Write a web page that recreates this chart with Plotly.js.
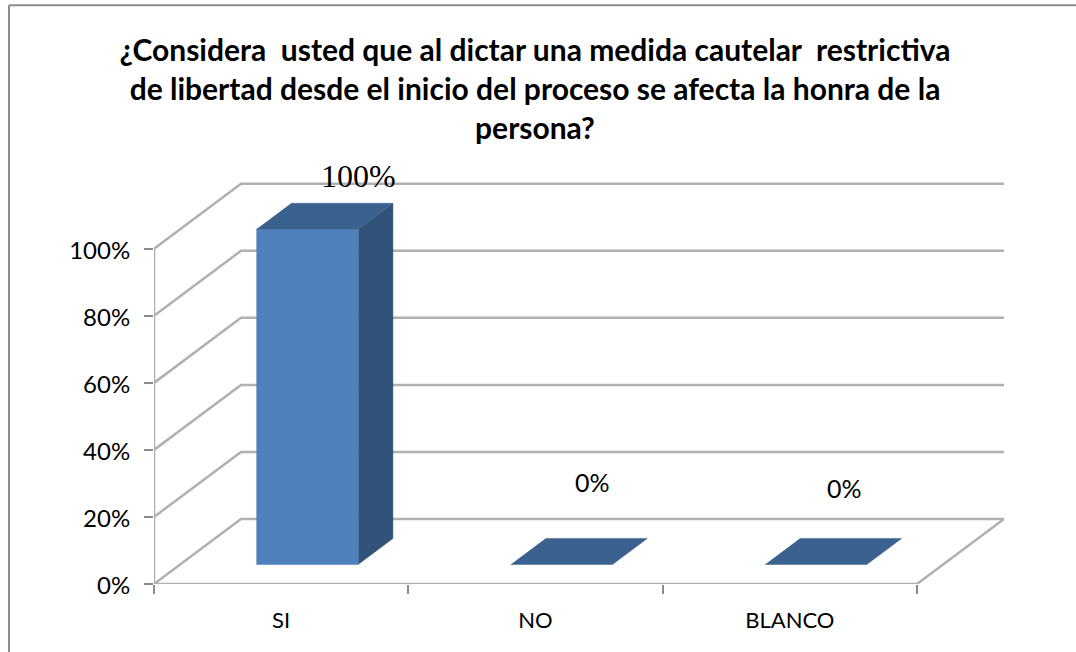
<!DOCTYPE html>
<html>
<head>
<meta charset="utf-8">
<script src="https://cdn.plot.ly/plotly-3.0.1.min.js"></script>
<style>
html,body{margin:0;padding:0;background:#fff;}
#chart{width:1076px;height:652px;}
</style>
</head>
<body>
<div id="chart"></div>
<script>
// ---- data ----
var categories = ["SI", "NO", "BLANCO"];
var values = [100, 0, 0];
var valueLabels = ["100%", "0%", "0%"];
var yTicks = [0, 20, 40, 60, 80, 100];
var yTickLabels = ["0%", "20%", "40%", "60%", "80%", "100%"];
var chartTitle = "¿Considera\u00a0 usted que al dictar una medida cautelar\u00a0 restrictiva<br>de libertad desde el inicio del proceso se afecta la honra de la<br>persona?";

// ---- oblique projection (depth 0 = front plane, 1 = back wall) ----
var depthX = 0.342, depthY = 19.4;
var barHalf = 0.2, barFront = 0.3, barBack = 0.7;
function px(cat, d) { return cat + d * depthX; }
function py(val, d) { return val + d * depthY; }

var traces = [];
var gridColor = "#b0b0b0";
var nCat = categories.length;

function poly(xs, ys, color) {
  return {type: "scatter", mode: "lines", x: xs, y: ys, fill: "toself", fillcolor: color,
          line: {color: color, width: 0.5}, hoverinfo: "skip", showlegend: false, cliponaxis: false};
}
function wire(xs, ys, w) {
  return {type: "scatter", mode: "lines", x: xs, y: ys, line: {color: gridColor, width: w || 2.5},
          hoverinfo: "skip", showlegend: false, cliponaxis: false};
}

// walls and floor
var left = -0.5, right = nCat - 0.5;
yTicks.forEach(function (t) {
  traces.push(wire([px(left, 0), px(left, 1), px(right, 1)], [py(t, 0), py(t, 1), py(t, 1)]));
});
traces.push(wire([left, left], [0, 100]));
traces.push(wire([left, right, px(right, 1)], [0, 0, py(0, 1)]));

// bars
var cSide = "#325379", cTop = "#3b628e", cFront = "#4f81bd";
categories.forEach(function (c, i) {
  var v = values[i];
  var x0 = i - barHalf, x1 = i + barHalf;
  if (v > 0) {
    traces.push(poly([px(x1, barFront), px(x1, barBack), px(x1, barBack), px(x1, barFront)],
                     [py(0, barFront), py(0, barBack), py(v, barBack), py(v, barFront)], cSide));
    traces.push(poly([px(x0, barFront), px(x1, barFront), px(x1, barFront), px(x0, barFront)],
                     [py(0, barFront), py(0, barFront), py(v, barFront), py(v, barFront)], cFront));
  }
  traces.push(poly([px(x0, barFront), px(x1, barFront), px(x1, barBack), px(x0, barBack)],
                   [py(v, barFront), py(v, barFront), py(v, barBack), py(v, barBack)], cTop));
});

// dummy traces that carry the secondary x axis (boundary tick marks)
traces.push({type: "scatter", mode: "markers", x: [0, 1, 2], y: [0, 0, 0], xaxis: "x2",
             marker: {opacity: 0}, hoverinfo: "skip", showlegend: false});

var W = 1076, H = 652;
var plotL = 154, plotR = 1005, plotB = 584, plotT = 165.25;
var xRange = [-0.5, 2.846];
var yRange = [0, 125];
function paperX(p) { return (p - plotL) / (plotR - plotL); }
function paperY(p) { return (plotB - p) / (plotB - plotT); }

var layout = {
  width: W, height: H,
  paper_bgcolor: "#fff", plot_bgcolor: "rgba(0,0,0,0)",
  showlegend: false,
  margin: {l: plotL, r: W - plotR, t: plotT, b: H - plotB, pad: 0},
  font: {family: "Lato, sans-serif", color: "#000"},
  title: {text: chartTitle, font: {family: "Lato, sans-serif", size: 30, color: "#000", weight: 700},
          x: 535 / W, xanchor: "center", y: 1 - 61 / H, yanchor: "middle"},
  xaxis: {range: xRange, tickmode: "array", tickvals: [0, 1, 2], ticktext: categories,
          ticks: "", showgrid: false, zeroline: false, showline: false,
          tickfont: {family: "Lato, sans-serif", size: 22}, ticklabelstandoff: 21},
  xaxis2: {range: xRange, overlaying: "x", anchor: "y", side: "bottom", tickmode: "array",
           tickvals: [-0.5, 0.5, 1.5, 2.5], ticktext: ["", "", "", ""], ticks: "outside",
           ticklen: 9, tickwidth: 1.5, tickcolor: "#8a8a8a", showgrid: false, zeroline: false, showline: false},
  yaxis: {range: yRange, tickmode: "array", tickvals: yTicks, ticktext: yTickLabels,
          ticks: "outside", ticklen: 9, tickwidth: 1.5, tickcolor: "#8a8a8a",
          showgrid: false, zeroline: false, showline: false, ticklabelstandoff: 9, ticklabelshift: 2,
          tickfont: {family: "Lato, sans-serif", size: 24}},
  annotations: [
    {x: 0.304, y: 121.7, text: valueLabels[0], showarrow: false, xanchor: "center", yanchor: "middle",
     font: {family: "Liberation Serif, serif", size: 32, color: "#000"}},
    {x: 1.225, y: 30.5, text: valueLabels[1], showarrow: false, xanchor: "center", yanchor: "middle",
     font: {family: "Lato, sans-serif", size: 25, color: "#000"}},
    {x: 2.215, y: 28.5, text: valueLabels[2], showarrow: false, xanchor: "center", yanchor: "middle",
     font: {family: "Lato, sans-serif", size: 25, color: "#000"}}
  ],
  shapes: [
    {type: "line", xref: "paper", yref: "paper", x0: paperX(9), x1: paperX(9), y0: paperY(652), y1: paperY(5.5),
     line: {color: "#8c8c8c", width: 2}},
    {type: "line", xref: "paper", yref: "paper", x0: paperX(9), x1: paperX(1076), y0: paperY(5.5), y1: paperY(5.5),
     line: {color: "#8c8c8c", width: 2}}
  ]
};

Plotly.newPlot("chart", traces, layout, {displayModeBar: false, responsive: false});
</script>
</body>
</html>
